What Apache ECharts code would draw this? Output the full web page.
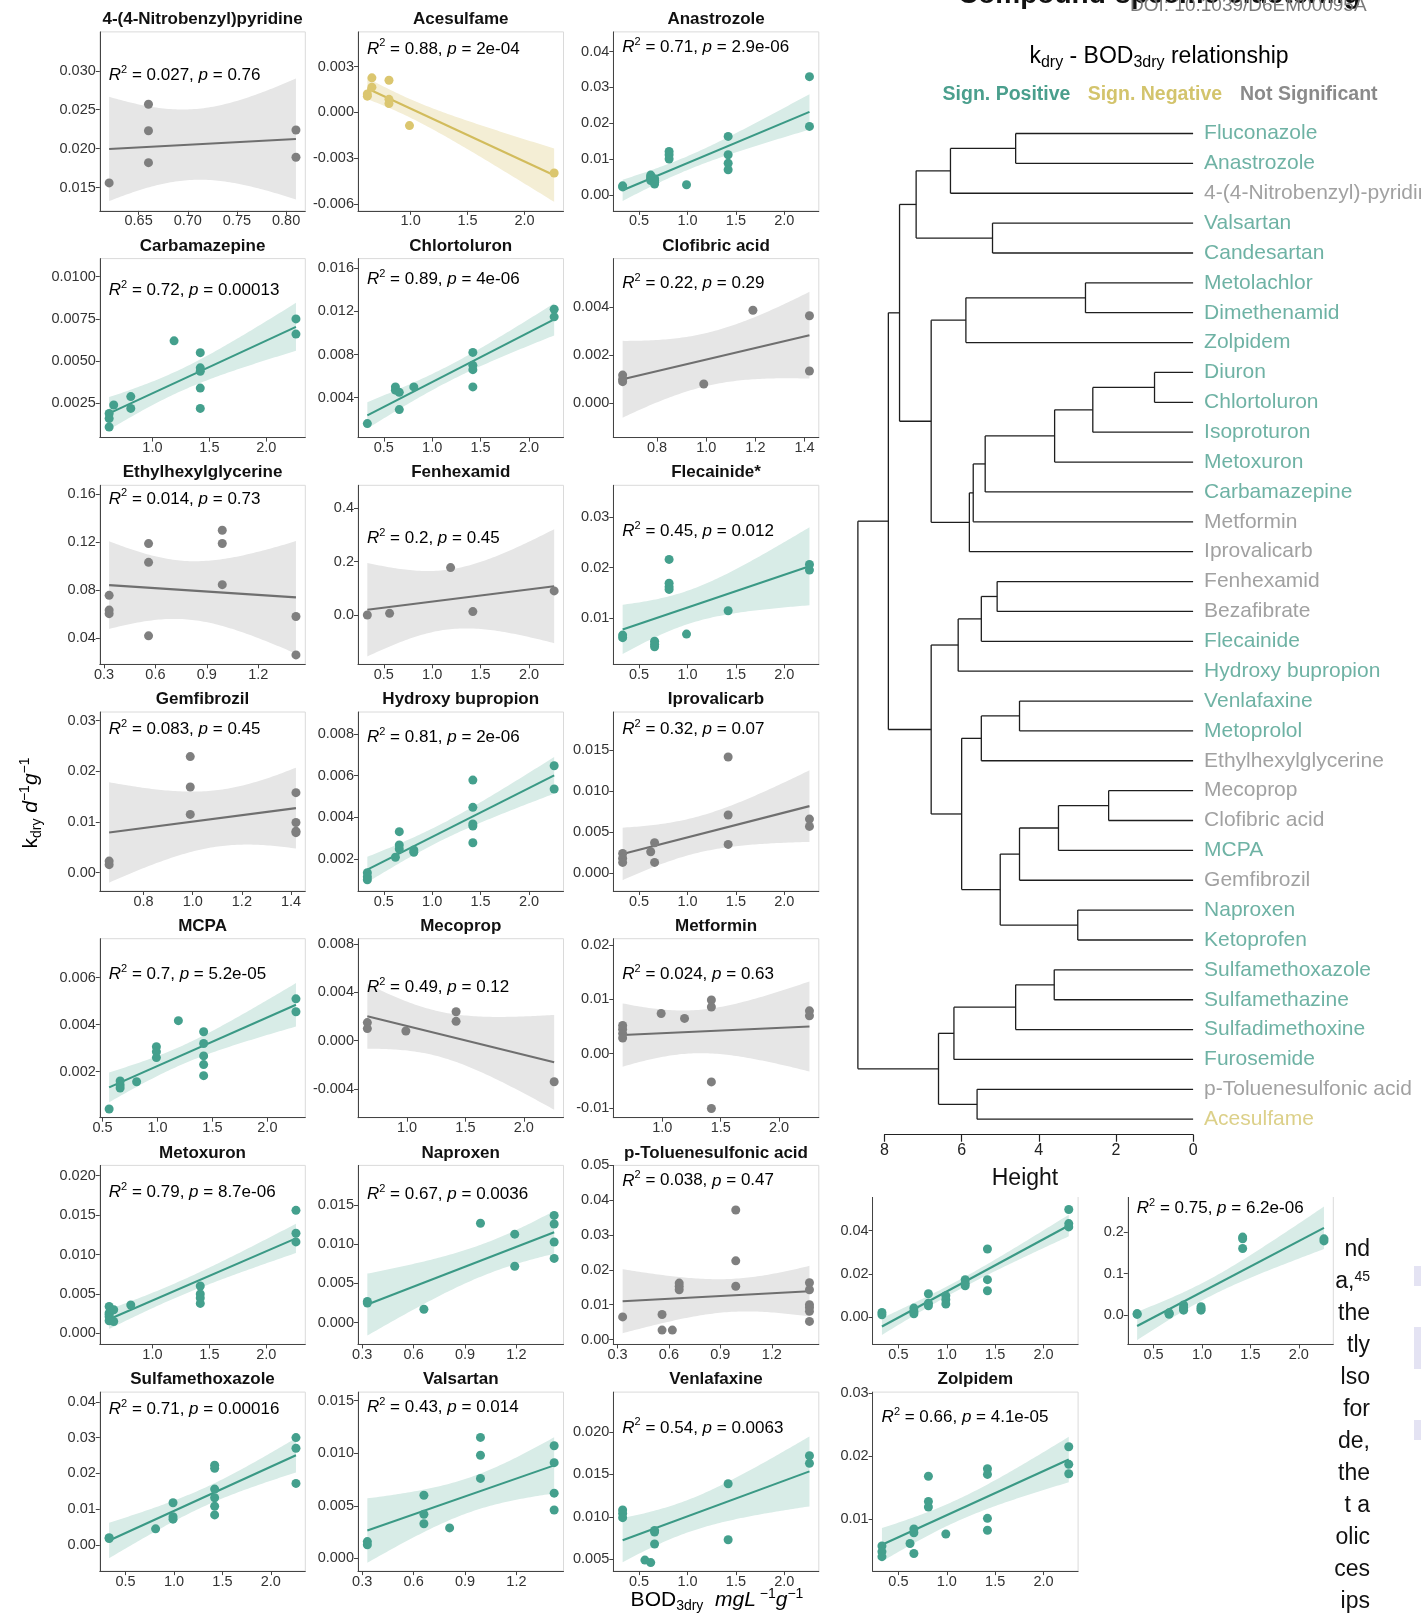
<!DOCTYPE html>
<html><head><meta charset="utf-8">
<script src="https://cdn.jsdelivr.net/npm/echarts@6/dist/echarts.min.js"></script>
<style>html,body{margin:0;padding:0;background:#fff}#c{width:1421px;height:1613px}</style>
</head><body><div id="c"></div>
<script>
// ---------------- DATA ----------------
const nitroX = [0.62,0.66,0.66,0.66,0.81,0.81];
const nitroY = [0.0156,0.0257,0.0223,0.0182,0.0224,0.0189];
const nitroYR = [0.0120,0.0350], nitroYT = [0.015,0.020,0.025,0.030], nitroXT = [0.65,0.70,0.75,0.80];

const aceX = [0.62,0.62,0.66,0.66,0.81,0.81,0.81,0.99,2.26];
const aceY = [0.00106,0.0012,0.00226,0.00165,0.0021,0.00085,0.00057,-0.00087,-0.00398];
const aceYR = [-0.00646,0.00527], aceYT = [-0.006,-0.003,0,0.003], aceXT = [1.0,1.5,2.0];

const anaX = [0.33,0.33,0.62,0.62,0.62,0.62,0.66,0.66,0.66,0.66,0.81,0.81,0.81,0.99,1.42,1.42,1.42,1.42,2.26,2.26];
const anaY = [0.0025,0.0022,0.0055,0.0050,0.0046,0.0040,0.0045,0.0040,0.0035,0.0030,0.0121,0.0112,0.0100,0.0028,0.0163,0.0112,0.0088,0.0070,0.0330,0.0191];
const anaYR = [-0.0045,0.0455], anaYT = [0,0.01,0.02,0.03,0.04], anaXT = [0.5,1.0,1.5,2.0];

const carbX = [0.62,0.62,0.62,0.66,0.81,0.81,1.19,1.42,1.42,1.42,1.42,1.42,2.26,2.26];
const carbY = [0.0019,0.0016,0.0011,0.0024,0.0029,0.0022,0.0062,0.0055,0.0046,0.0044,0.0034,0.0022,0.0075,0.0066];
const carbYR = [0.00047,0.01107], carbYT = [0.0025,0.0050,0.0075,0.0100], carbXT = [1.0,1.5,2.0];

const chloX = [0.33,0.62,0.62,0.66,0.66,0.81,1.42,1.42,1.42,1.42,2.26,2.26];
const chloY = [0.0016,0.0050,0.0047,0.0045,0.0029,0.0050,0.0082,0.0070,0.0066,0.0050,0.0122,0.0115];
const chloYR = [0.0003,0.0169], chloYT = [0.004,0.008,0.012,0.016], chloXT = [0.5,1.0,1.5,2.0];

const clofX = [0.66,0.66,0.66,0.99,1.19,1.42,1.42];
const clofY = [0.00117,0.0010,0.0009,0.0008,0.00386,0.00363,0.00134];
const clofYR = [-0.00142,0.0060], clofYT = [0,0.002,0.004], clofXT = [0.8,1.0,1.2,1.4];

const ethX = [0.33,0.33,0.33,0.56,0.56,0.56,0.99,0.99,0.99,1.42,1.42];
const ethY = [0.0758,0.0635,0.0605,0.1189,0.1033,0.042,0.130,0.119,0.0847,0.0581,0.0261];
const ethYR = [0.0183,0.1675], ethYT = [0.04,0.08,0.12,0.16], ethXT = [0.3,0.6,0.9,1.2];

const fenX = [0.33,0.56,1.19,1.42,2.26];
const fenY = [0.0,0.006,0.1775,0.0125,0.09];
const fenYR = [-0.185,0.486], fenYT = [0,0.2,0.4], fenXT = [0.5,1.0,1.5,2.0];

const fleX = [0.33,0.33,0.66,0.66,0.66,0.81,0.81,0.81,0.81,0.99,1.42,2.26,2.26];
const fleY = [0.0067,0.0062,0.0055,0.0049,0.0044,0.0216,0.0169,0.0162,0.0157,0.0069,0.0115,0.0206,0.0195];
const fleYR = [0.00095,0.0362], fleYT = [0.01,0.02,0.03], fleXT = [0.5,1.0,1.5,2.0];

const gemX = [0.66,0.66,0.99,0.99,0.99,1.42,1.42,1.42,1.42];
const gemY = [0.0023,0.0016,0.0229,0.0169,0.0115,0.0158,0.0099,0.0082,0.0079];
const gemYR = [-0.0036,0.0317], gemYT = [0,0.01,0.02,0.03], gemXT = [0.8,1.0,1.2,1.4];

const hydX = [0.33,0.33,0.33,0.62,0.66,0.66,0.66,0.81,0.81,1.42,1.42,1.42,1.42,1.42,2.26,2.26];
const hydY = [0.00134,0.00115,0.0010,0.00208,0.00331,0.00267,0.00248,0.00243,0.00232,0.00579,0.00448,0.00368,0.00358,0.00278,0.00648,0.00536];
const hydYR = [0.00046,0.00906], hydYT = [0.002,0.004,0.006,0.008], hydXT = [0.5,1.0,1.5,2.0];

const iprX = [0.33,0.33,0.33,0.62,0.66,0.66,1.42,1.42,1.42,2.26,2.26];
const iprY = [0.0024,0.0018,0.0013,0.0026,0.0037,0.0013,0.0142,0.0071,0.0035,0.0066,0.0057];
const iprYR = [-0.0022,0.0197], iprYT = [0,0.005,0.010,0.015], iprXT = [0.5,1.0,1.5,2.0];

const mcpaX = [0.56,0.66,0.66,0.66,0.81,0.99,0.99,0.99,1.19,1.42,1.42,1.42,1.42,1.42,2.26,2.26];
const mcpaY = [0.00041,0.0016,0.00143,0.0013,0.00157,0.00306,0.00285,0.0026,0.00417,0.0037,0.0032,0.00267,0.0023,0.00183,0.0051,0.00455];
const mcpaYR = [0.00004,0.00766], mcpaYT = [0.002,0.004,0.006], mcpaXT = [0.5,1.0,1.5,2.0];

const mecX = [0.66,0.66,0.99,1.42,1.42,2.26];
const mecY = [0.0015,0.0010,0.0008,0.0024,0.0016,-0.0034];
const mecYR = [-0.00637,0.00844], mecYT = [-0.004,0,0.004,0.008], mecXT = [1.0,1.5,2.0];

const metfX = [0.66,0.66,0.66,0.66,0.99,1.19,1.42,1.42,1.42,1.42,2.26,2.26];
const metfY = [0.0052,0.0045,0.0037,0.0029,0.0074,0.0065,0.0099,0.0086,-0.0052,-0.0101,0.0079,0.0070];
const metfYR = [-0.0118,0.0212], metfYT = [-0.01,0,0.01,0.02], metfXT = [1.0,1.5,2.0];

const metoX = [0.62,0.62,0.62,0.62,0.62,0.66,0.66,0.81,1.42,1.42,1.42,1.42,2.26,2.26,2.26];
const metoY = [0.0034,0.0026,0.0024,0.0021,0.0016,0.0030,0.0015,0.0036,0.0060,0.0050,0.0045,0.0038,0.0156,0.0127,0.0116];
const metoYR = [-0.0014,0.0213], metoYT = [0,0.005,0.010,0.015,0.020], metoXT = [1.0,1.5,2.0];

const napX = [0.33,0.33,0.66,0.99,1.19,1.19,1.42,1.42,1.42,1.42];
const napY = [0.0027,0.0025,0.0017,0.0127,0.0113,0.0072,0.0137,0.0126,0.0103,0.0082];
const napYR = [-0.0028,0.0201], napYT = [0,0.005,0.010,0.015], napXT = [0.3,0.6,0.9,1.2];

const ptolX = [0.33,0.56,0.56,0.62,0.66,0.66,0.66,0.99,0.99,0.99,1.42,1.42,1.42,1.42,1.42,1.42];
const ptolY = [0.0065,0.0072,0.0027,0.0027,0.0162,0.0153,0.0143,0.0372,0.0226,0.0153,0.0163,0.0143,0.0100,0.0092,0.0081,0.0052];
const ptolYR = [-0.0014,0.0500], ptolYT = [0,0.01,0.02,0.03,0.04,0.05], ptolXT = [0.3,0.6,0.9,1.2];

const smxX = [0.33,0.33,0.81,0.99,0.99,0.99,1.42,1.42,1.42,1.42,1.42,1.42,2.26,2.26,2.26];
const smxY = [0.0020,0.0018,0.0045,0.0118,0.0079,0.0072,0.0223,0.0214,0.0156,0.0132,0.0108,0.0084,0.0300,0.0270,0.0172];
const smxYR = [-0.0073,0.0427], smxYT = [0,0.01,0.02,0.03,0.04], smxXT = [0.5,1.0,1.5,2.0];

const valX = [0.33,0.33,0.66,0.66,0.66,0.81,0.99,0.99,0.99,1.42,1.42,1.42,1.42];
const valY = [0.0016,0.0013,0.0060,0.0042,0.0033,0.0029,0.0115,0.0098,0.0076,0.0107,0.0091,0.0062,0.0046];
const valYR = [-0.0012,0.0158], valYT = [0,0.005,0.010,0.015], valXT = [0.3,0.6,0.9,1.2];

const venX = [0.33,0.33,0.33,0.56,0.62,0.66,0.66,0.66,1.42,1.42,2.26,2.26];
const venY = [0.0108,0.0104,0.0099,0.0049,0.0046,0.0084,0.0082,0.0068,0.0139,0.0073,0.0172,0.0163];
const venYR = [0.0036,0.0247], venYT = [0.005,0.010,0.015,0.020], venXT = [0.5,1.0,1.5,2.0];

const hidAX = [0.33,0.33,0.66,0.66,0.66,0.81,0.81,0.81,0.99,0.99,0.99,1.19,1.19,1.19,1.42,1.42,1.42,2.26,2.26,2.26];
const hidAY = [0.0023,0.0012,0.0043,0.0028,0.0017,0.0109,0.0066,0.0054,0.0100,0.0082,0.0062,0.0174,0.0158,0.0146,0.0315,0.0174,0.0123,0.0497,0.0432,0.0417];
const hidAYR = [-0.0124,0.0700], hidAYT = [0,0.02,0.04], hidAXT = [0.5,1.0,1.5,2.0];

const hidBX = [0.33,0.33,0.66,0.66,0.66,0.81,0.81,0.81,0.81,0.99,0.99,0.99,1.42,1.42,1.42,2.26,2.26];
const hidBY = [0.004,0.002,0.0058,0.0040,0.0025,0.0247,0.0180,0.0150,0.0123,0.0206,0.0160,0.0123,0.1877,0.1836,0.1605,0.1836,0.1786];
const hidBYR = [-0.070,0.360], hidBYT = [0,0.1,0.2], hidBXT = [0.5,1.0,1.5,2.0];

const zolX = [0.33,0.33,0.33,0.62,0.66,0.66,0.66,0.81,0.81,0.81,0.99,1.42,1.42,1.42,1.42,2.26,2.26,2.26];
const zolY = [0.0057,0.0048,0.0040,0.0061,0.0084,0.0078,0.0045,0.0168,0.0128,0.0119,0.0076,0.0180,0.0171,0.0101,0.0082,0.0215,0.0187,0.0172];
const zolYR = [0.0017,0.0302], zolYT = [0.01,0.02,0.03], zolXT = [0.5,1.0,1.5,2.0];

// dendrogram
const leafNames = ['Fluconazole','Anastrozole','4-(4-Nitrobenzyl)-pyridine','Valsartan','Candesartan','Metolachlor','Dimethenamid','Zolpidem','Diuron','Chlortoluron','Isoproturon','Metoxuron','Carbamazepine','Metformin','Iprovalicarb','Fenhexamid','Bezafibrate','Flecainide','Hydroxy bupropion','Venlafaxine','Metoprolol','Ethylhexylglycerine','Mecoprop','Clofibric acid','MCPA','Gemfibrozil','Naproxen','Ketoprofen','Sulfamethoxazole','Sulfamethazine','Sulfadimethoxine','Furosemide','p-Toluenesulfonic acid','Acesulfame'];
const leafSigns = ['P','P','NS','P','P','P','P','P','P','P','P','P','P','NS','NS','NS','NS','P','P','P','P','NS','NS','NS','P','NS','P','P','P','P','P','P','NS','N'];
const dendroTree = [8.69,
  [7.9,
    [7.61,
      [7.18, [6.29, [4.6,'Fluconazole','Anastrozole'], '4-(4-Nitrobenzyl)-pyridine'], [5.2,'Valsartan','Candesartan']],
      [6.79,
        [5.89, [2.79,'Metolachlor','Dimethenamid'], 'Zolpidem'],
        [5.8, [5.7, [5.39, [3.59, [2.6, [1.0,'Diuron','Chlortoluron'], 'Isoproturon'], 'Metoxuron'], 'Carbamazepine'], 'Metformin'], 'Iprovalicarb']]],
    [6.79,
      [6.09, [5.49, [5.08,'Fenhexamid','Bezafibrate'], 'Flecainide'], 'Hydroxy bupropion'],
      [6.0,
        [5.49, [4.5,'Venlafaxine','Metoprolol'], 'Ethylhexylglycerine'],
        [5.0, [4.5, [3.49, [2.19,'Mecoprop','Clofibric acid'], 'MCPA'], 'Gemfibrozil'], [2.99,'Naproxen','Ketoprofen']]]]],
  [6.6,
    [6.2, [4.6, [3.6,'Sulfamethoxazole','Sulfamethazine'], 'Sulfadimethoxine'], 'Furosemide'],
    [5.6,'p-Toluenesulfonic acid','Acesulfame']]];
const heightTicks = [0,2,4,6,8];

// ---------------- PANEL TABLE ----------------
const panels = [
 {t:'4-(4-Nitrobenzyl)pyridine', s:'NS', x:nitroX, y:nitroY, yr:nitroYR, yt:nitroYT, yd:3, xt:nitroXT, xd:2, r2:'0.027', p:'0.76', row:0, col:0, lf:0.244},
 {t:'Acesulfame', s:'N', x:aceX, y:aceY, yr:aceYR, yt:aceYT, yd:3, xt:aceXT, xd:1, r2:'0.88', p:'2e-04', row:0, col:1, lf:0.095},
 {t:'Anastrozole', s:'P', x:anaX, y:anaY, yr:anaYR, yt:anaYT, yd:2, xt:anaXT, xd:1, r2:'0.71', p:'2.9e-06', row:0, col:2, lf:0.086},
 {t:'Carbamazepine', s:'P', x:carbX, y:carbY, yr:carbYR, yt:carbYT, yd:4, xt:carbXT, xd:1, r2:'0.72', p:'0.00013', row:1, col:0, lf:0.176},
 {t:'Chlortoluron', s:'P', x:chloX, y:chloY, yr:chloYR, yt:chloYT, yd:3, xt:chloXT, xd:1, r2:'0.89', p:'4e-06', row:1, col:1, lf:0.118},
 {t:'Clofibric acid', s:'NS', x:clofX, y:clofY, yr:clofYR, yt:clofYT, yd:3, xt:clofXT, xd:1, r2:'0.22', p:'0.29', row:1, col:2, lf:0.137},
 {t:'Ethylhexylglycerine', s:'NS', x:ethX, y:ethY, yr:ethYR, yt:ethYT, yd:2, xt:ethXT, xd:1, r2:'0.014', p:'0.73', row:2, col:0, lf:0.076},
 {t:'Fenhexamid', s:'NS', x:fenX, y:fenY, yr:fenYR, yt:fenYT, yd:1, xt:fenXT, xd:1, r2:'0.2', p:'0.45', row:2, col:1, lf:0.295},
 {t:'Flecainide*', s:'P', x:fleX, y:fleY, yr:fleYR, yt:fleYT, yd:2, xt:fleXT, xd:1, r2:'0.45', p:'0.012', row:2, col:2, lf:0.257},
 {t:'Gemfibrozil', s:'NS', x:gemX, y:gemY, yr:gemYR, yt:gemYT, yd:2, xt:gemXT, xd:1, r2:'0.083', p:'0.45', row:3, col:0, lf:0.095},
 {t:'Hydroxy bupropion', s:'P', x:hydX, y:hydY, yr:hydYR, yt:hydYT, yd:3, xt:hydXT, xd:1, r2:'0.81', p:'2e-06', row:3, col:1, lf:0.143},
 {t:'Iprovalicarb', s:'NS', x:iprX, y:iprY, yr:iprYR, yt:iprYT, yd:3, xt:iprXT, xd:1, r2:'0.32', p:'0.07', row:3, col:2, lf:0.095},
 {t:'MCPA', s:'P', x:mcpaX, y:mcpaY, yr:mcpaYR, yt:mcpaYT, yd:3, xt:mcpaXT, xd:1, r2:'0.7', p:'5.2e-05', row:4, col:0, lf:0.2},
 {t:'Mecoprop', s:'NS', x:mecX, y:mecY, yr:mecYR, yt:mecYT, yd:3, xt:mecXT, xd:1, r2:'0.49', p:'0.12', row:4, col:1, lf:0.27},
 {t:'Metformin', s:'NS', x:metfX, y:metfY, yr:metfYR, yt:metfYT, yd:2, xt:metfXT, xd:1, r2:'0.024', p:'0.63', row:4, col:2, lf:0.2},
 {t:'Metoxuron', s:'P', x:metoX, y:metoY, yr:metoYR, yt:metoYT, yd:3, xt:metoXT, xd:1, r2:'0.79', p:'8.7e-06', row:5, col:0, lf:0.152},
 {t:'Naproxen', s:'P', x:napX, y:napY, yr:napYR, yt:napYT, yd:3, xt:napXT, xd:1, r2:'0.67', p:'0.0036', row:5, col:1, lf:0.162},
 {t:'p-Toluenesulfonic acid', s:'NS', x:ptolX, y:ptolY, yr:ptolYR, yt:ptolYT, yd:2, xt:ptolXT, xd:1, r2:'0.038', p:'0.47', row:5, col:2, lf:0.086},
 {t:'', s:'P', x:hidAX, y:hidAY, yr:hidAYR, yt:hidAYT, yd:2, xt:hidAXT, xd:1, r2:null, p:null, row:5, col:3, lf:0.1},
 {t:'', s:'P', x:hidBX, y:hidBY, yr:hidBYR, yt:hidBYT, yd:1, xt:hidBXT, xd:1, r2:'0.75', p:'6.2e-06', row:5, col:4, lf:0.24},
 {t:'Sulfamethoxazole', s:'P', x:smxX, y:smxY, yr:smxYR, yt:smxYT, yd:2, xt:smxXT, xd:1, r2:'0.71', p:'0.00016', row:6, col:0, lf:0.095},
 {t:'Valsartan', s:'P', x:valX, y:valY, yr:valYR, yt:valYT, yd:3, xt:valXT, xd:1, r2:'0.43', p:'0.014', row:6, col:1, lf:0.086},
 {t:'Venlafaxine', s:'P', x:venX, y:venY, yr:venYR, yt:venYT, yd:3, xt:venXT, xd:1, r2:'0.54', p:'0.0063', row:6, col:2, lf:0.2},
 {t:'Zolpidem', s:'P', x:zolX, y:zolY, yr:zolYR, yt:zolYT, yd:2, xt:zolXT, xd:1, r2:'0.66', p:'4.1e-05', row:6, col:3, lf:0.14}
];

// ---------------- STYLE / LAYOUT ----------------
const F = "'Liberation Sans', Arial, Helvetica, sans-serif";
const COL_LEFT = [99.8, 358, 613.3, 872.6, 1127.8];
const PW = 205.5, PH = 179, ROW_TOP0 = 31.9, ROW_STEP = 226.7;
const PAL = {
  P:  {pt:'#44a08d', line:'#3a9985', band:'#d8ece7'},
  N:  {pt:'#dbc66f', line:'#d2bc5c', band:'#f4eed5'},
  NS: {pt:'#7f7f7f', line:'#6f6f6f', band:'#e6e6e6'}
};
const LEG = {P:'#4a9f8d', N:'#d3c46c', NS:'#8a8a8a'};
const T975 = [NaN,12.706,4.303,3.182,2.776,2.571,2.447,2.365,2.306,2.262,2.228,2.201,2.179,2.160,2.145,2.131,2.120,2.110,2.101,2.093,2.086,2.080,2.074,2.069,2.064];

function lmFit(xs, ys){
  const n = xs.length;
  const mx = xs.reduce((a,b)=>a+b,0)/n, my = ys.reduce((a,b)=>a+b,0)/n;
  let sxx=0, sxy=0;
  for (let i=0;i<n;i++){ sxx += (xs[i]-mx)**2; sxy += (xs[i]-mx)*(ys[i]-my); }
  const b = sxy/sxx, a = my - b*mx;
  let sse=0; for (let i=0;i<n;i++){ sse += (ys[i]-a-b*xs[i])**2; }
  const s2 = sse/(n-2), t = T975[n-2];
  const xmin = Math.min(...xs), xmax = Math.max(...xs);
  const up=[], lo=[];
  for (let k=0;k<80;k++){
    const x = xmin + (xmax-xmin)*k/79;
    const yh = a + b*x;
    const se = Math.sqrt(s2*(1/n + (x-mx)**2/sxx));
    up.push([x, yh + t*se]); lo.push([x, yh - t*se]);
  }
  return {a, b, xmin, xmax, up, lo};
}

const grids=[], xAxes=[], yAxes=[], series=[], graphics=[];
const richR2 = {
  i:{fontFamily:F, fontStyle:'italic', fontSize:17, color:'#111', lineHeight:22},
  n:{fontFamily:F, fontSize:17, color:'#111', lineHeight:22},
  sup:{fontFamily:F, fontSize:11, color:'#111', lineHeight:11, verticalAlign:'top'}
};

panels.forEach((pn, k) => {
  const left = COL_LEFT[pn.col], top = ROW_TOP0 + ROW_STEP*pn.row;
  const pal = PAL[pn.s];
  grids.push({left:left, top:top, width:PW, height:PH, show:true, borderColor:'#dadada', borderWidth:1, backgroundColor:'#fff', containLabel:false});
  const xmin = Math.min(...pn.x), xmax = Math.max(...pn.x), xr = xmax - xmin;
  const axLine = {show:true, onZero:false, lineStyle:{color:'#444', width:1}};
  xAxes.push({type:'value', gridIndex:k, min:xmin-0.05*xr, max:xmax+0.05*xr, z:3,
    axisLine:axLine, splitLine:{show:false},
    axisTick:{show:true, length:4, customValues:pn.xt, lineStyle:{color:'#444'}},
    axisLabel:{customValues:pn.xt, formatter:(v)=>Number(v).toFixed(pn.xd), fontSize:14.5, color:'#333', margin:3, fontFamily:F}});
  yAxes.push({type:'value', gridIndex:k, min:pn.yr[0], max:pn.yr[1], z:3,
    axisLine:axLine, splitLine:{show:false},
    axisTick:{show:true, length:4, customValues:pn.yt, lineStyle:{color:'#444'}},
    axisLabel:{customValues:pn.yt, formatter:(v)=>Number(v).toFixed(pn.yd), fontSize:14.5, color:'#333', margin:4, fontFamily:F}});
  const fit = lmFit(pn.x, pn.y);
  const poly = fit.up.concat(fit.lo.slice().reverse());
  series.push({type:'custom', xAxisIndex:k, yAxisIndex:k, clip:true, silent:true, z:2,
    data:[[fit.xmin, fit.lo[0][1]]],
    renderItem:(params, api)=>({type:'polygon', shape:{points:poly.map(p=>api.coord(p))}, style:{fill:pal.band}})});
  series.push({type:'line', xAxisIndex:k, yAxisIndex:k, silent:true, z:3, showSymbol:false, symbol:'none',
    data:[[fit.xmin, fit.a+fit.b*fit.xmin],[fit.xmax, fit.a+fit.b*fit.xmax]],
    lineStyle:{color:pal.line, width:2.1}});
  series.push({type:'scatter', xAxisIndex:k, yAxisIndex:k, silent:true, z:4, symbolSize:9,
    data:pn.x.map((v,i)=>[v, pn.y[i]]), itemStyle:{color:pal.pt, opacity:1}});
  if (pn.t) graphics.push({type:'text', x:left+PW/2, y:top-12.5, z:10,
    style:{text:pn.t, font:'bold 17px '+F, fill:'#111', align:'center', verticalAlign:'middle'}});
  if (pn.r2) graphics.push({type:'text', x:left+9, y:top+pn.lf*PH, z:10,
    style:{text:'{i|R}{sup|2}{n| = '+pn.r2+', }{i|p}{n| = '+pn.p+'}', rich:richR2, align:'left', verticalAlign:'middle'}});
});

// ---------------- DENDROGRAM ----------------
const dk = grids.length;
const DEND_LEFT = 884.5, DEND_W = 308.6, LEAF_TOP = 133.5, LEAF_STEP = 29.87, PADL = 0.52;
grids.push({left:DEND_LEFT, top:LEAF_TOP-PADL*LEAF_STEP, width:DEND_W, height:(33+2*PADL)*LEAF_STEP, show:false});
xAxes.push({type:'value', gridIndex:dk, min:0, max:8, inverse:true, z:60,
  axisLine:{show:true, onZero:false, lineStyle:{color:'#222', width:1.2}},
  axisTick:{show:true, length:7, customValues:heightTicks, lineStyle:{color:'#222', width:1.2}},
  axisLabel:{customValues:heightTicks, fontSize:16, color:'#222', margin:8, fontFamily:F}, splitLine:{show:false}});
yAxes.push({type:'value', gridIndex:dk, min:-PADL, max:33+PADL, inverse:true, show:false});

const segs = [];
function walk(node){
  if (typeof node === 'string') return {h:0, y:leafNames.indexOf(node)};
  const A = walk(node[1]), B = walk(node[2]), h = node[0];
  segs.push([A.h, A.y, h, A.y]); segs.push([B.h, B.y, h, B.y]); segs.push([h, A.y, h, B.y]);
  return {h:h, y:(A.y+B.y)/2};
}
walk(dendroTree);
series.push({type:'custom', xAxisIndex:dk, yAxisIndex:dk, clip:false, silent:true, z:60,
  dimensions:['x1','y1','x2','y2'], encode:{x:[0,2], y:[1,3]}, data:segs,
  renderItem:(params, api)=>{
    const p1 = api.coord([api.value(0), api.value(1)]), p2 = api.coord([api.value(2), api.value(3)]);
    return {type:'line', shape:{x1:p1[0], y1:p1[1], x2:p2[0], y2:p2[1]}, style:{stroke:'#1e1e1e', lineWidth:1.3}};
  }});
series.push({type:'scatter', xAxisIndex:dk, yAxisIndex:dk, silent:true, z:60, symbolSize:0,
  data:leafNames.map((n,i)=>({name:n, value:[0,i], label:{color:LEG[leafSigns[i]]}})),
  label:{show:true, position:'right', distance:11, formatter:(p)=>p.name, fontSize:21, fontFamily:F}});

// overlay covering top of the two cut panels (dendrogram background)
graphics.push({type:'rect', z:50, shape:{x:822, y:0, width:600, height:1197}, style:{fill:'#fff'}});

// titles / legend / axis names
graphics.push({type:'text', z:70, x:958, y:-5, style:{text:'Compound-specific clustering', font:'bold 28px '+F, fill:'#111', align:'left', verticalAlign:'middle'}});
graphics.push({type:'text', z:71, x:1130, y:6, style:{text:'DOI: 10.1039/D6EM00095A', font:'19px '+F, fill:'#7a7a7a', align:'left', verticalAlign:'middle'}});
graphics.push({type:'text', z:70, x:1159, y:57, style:{
  text:'{n|k}{sb|dry}{n| - BOD}{sb|3dry}{n| relationship}', align:'center', verticalAlign:'middle',
  rich:{n:{fontFamily:F, fontSize:23, color:'#111', lineHeight:28}, sb:{fontFamily:F, fontSize:16, color:'#111', lineHeight:16, verticalAlign:'bottom'}}}});
[['Sign. Positive',942.6,'P'],['Sign. Negative',1087.7,'N'],['Not Significant',1240,'NS']].forEach(l=>{
  graphics.push({type:'text', z:70, x:l[1], y:95, style:{text:l[0], font:'bold 19.5px '+F, fill:LEG[l[2]], align:'left', verticalAlign:'middle'}});
});
graphics.push({type:'text', z:70, x:1025, y:1179, style:{text:'Height', font:'23px '+F, fill:'#111', align:'center', verticalAlign:'middle'}});

graphics.push({type:'text', z:70, x:31, y:803, rotation:Math.PI/2, style:{
  text:'{n|k}{sb|dry}{n| }{i|d}{sp|−1}{i|g}{sp|−1}', align:'center', verticalAlign:'middle',
  rich:{n:{fontFamily:F, fontSize:21, color:'#111', lineHeight:26}, i:{fontFamily:F, fontStyle:'italic', fontSize:21, color:'#111', lineHeight:26},
        sb:{fontFamily:F, fontSize:14, color:'#111', lineHeight:14, verticalAlign:'bottom'}, sp:{fontFamily:F, fontSize:14, color:'#111', lineHeight:14, verticalAlign:'top'}}}});
graphics.push({type:'text', z:70, x:717, y:1600, style:{
  text:'{n|BOD}{sb|3dry}{n|  }{i|mgL}{sp| −1}{i|g}{sp|−1}', align:'center', verticalAlign:'middle',
  rich:{n:{fontFamily:F, fontSize:21, color:'#111', lineHeight:26}, i:{fontFamily:F, fontStyle:'italic', fontSize:21, color:'#111', lineHeight:26},
        sb:{fontFamily:F, fontSize:14, color:'#111', lineHeight:14, verticalAlign:'bottom'}, sp:{fontFamily:F, fontSize:14, color:'#111', lineHeight:14, verticalAlign:'top'}}}});

// page text fragments at right
const fragText = ['nd','a,{s|45}','the','tly','lso','for','de,','the','t a','olic','ces','ips'];
fragText.forEach((t,i)=>{
  graphics.push({type:'text', z:70, x:1370, y:1250+i*32, style:{text:t, align:'right', verticalAlign:'middle',
    font:'23px '+F, fill:'#111', rich:{s:{fontFamily:F, fontSize:14, color:'#111', verticalAlign:'top', lineHeight:12}}}});
});
// faint watermark marks at right edge
[[98,13],[144,10],[327,28],[386,14],[442,16],[643,16],[803,50],[1070,21],[1266,20],[1327,42],[1420,20]].forEach(r=>{
  graphics.push({type:'rect', z:1, shape:{x:1414, y:r[0], width:7, height:r[1]}, style:{fill:'#e4e3f3'}});
});

const chart = echarts.init(document.getElementById('c'), null, {renderer:'canvas'});
chart.setOption({backgroundColor:'#fff', animation:false, grid:grids, xAxis:xAxes, yAxis:yAxes, series:series, graphic:{elements:graphics}});
</script></body></html>
